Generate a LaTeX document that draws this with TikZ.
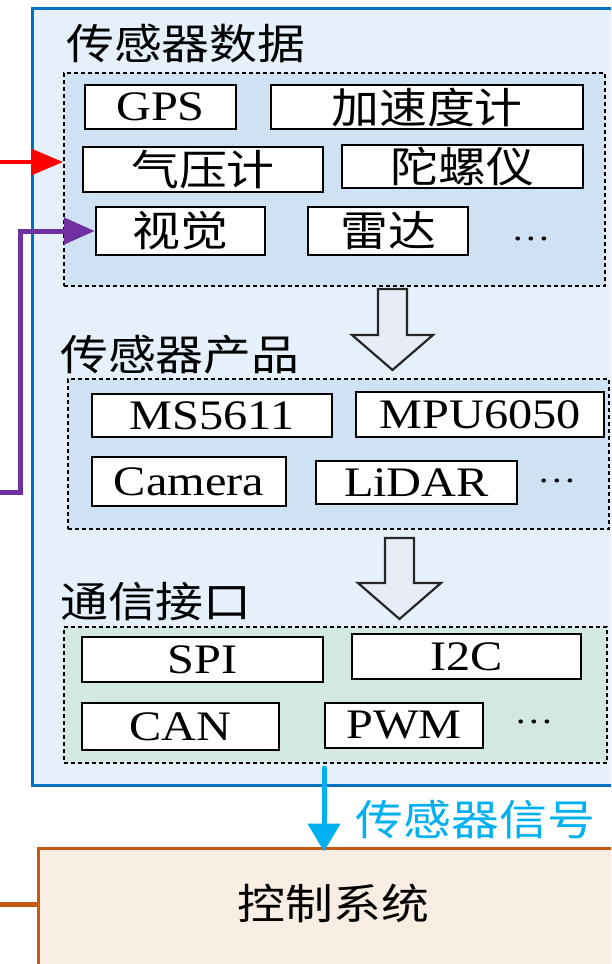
\documentclass[tikz,border=0pt]{standalone}
\usepackage{fontspec}
\setmainfont{Liberation Serif}[FakeStretch=1.15]
\newfontfamily\cjk{Noto Sans CJK SC}[FakeStretch=1.14]
\usetikzlibrary{arrows.meta}
\definecolor{outerfill}{RGB}{229,240,250}
\definecolor{outerline}{RGB}{0,112,192}
\definecolor{grpblue}{RGB}{207,226,243}
\definecolor{grpgreen}{RGB}{211,232,227}
\definecolor{arrowfill}{RGB}{232,236,246}
\definecolor{ctrlfill}{RGB}{248,238,228}
\definecolor{ctrlline}{RGB}{197,90,17}
\definecolor{sigcyan}{RGB}{0,176,240}
\definecolor{redline}{RGB}{255,0,0}
\definecolor{purpline}{RGB}{112,48,160}
\begin{document}
\begin{tikzpicture}[x=1pt,y={(0pt,-1pt)},
  item/.style={draw=black, line width=2.3pt, fill=white, inner sep=0pt, font=\fontsize{42}{48}\selectfont},
  itemc/.style={item, font=\cjk\fontsize{42}{48}\selectfont},
  group/.style={draw=black, line width=2pt, dash pattern=on 4pt off 3pt, inner sep=0pt},
  title/.style={anchor=west, inner sep=0pt, font=\cjk\fontsize{42}{48}\selectfont},
  dotsnode/.style={anchor=base, inner sep=0pt, font=\fontsize{34}{40}\selectfont},
  blockarrow/.style={draw=black!85, fill=arrowfill, line width=2.2pt, line join=miter},
  conn/.style={line width=5pt}
]
\useasboundingbox (0,0) rectangle (611,964);
\clip (0,0) rectangle (611,964);
% outer container
\node[draw=outerline, fill=outerfill, line width=3pt, minimum width=618pt, minimum height=777pt, inner sep=0pt] (outer) at (341,396.5) {};
% titles
\node[title] (t1) at (66,44) {传感器数据};
\node[title] (t2) at (60,355) {传感器产品};
\node[title] (t3) at (60,601.5) {通信接口};
% groups
\node[group, fill=grpblue, minimum width=541pt, minimum height=213pt] (g1) at (334.5,179.5) {};
\node[group, fill=grpblue, minimum width=541pt, minimum height=150pt] (g2) at (338.5,454) {};
\node[group, fill=grpgreen, minimum width=543pt, minimum height=136pt] (g3) at (335.5,695) {};
% group 1 items
\node[item, minimum width=151pt, minimum height=44pt] (gps) at (160.5,107) {GPS};
\node[itemc, minimum width=312pt, minimum height=44pt] (acc) at (427,107) {加速度计};
\node[itemc, minimum width=240pt, minimum height=45pt] (baro) at (203,169.5) {气压计};
\node[itemc, minimum width=241pt, minimum height=43pt] (gyro) at (462.5,166.5) {陀螺仪};
\node[itemc, minimum width=169pt, minimum height=48pt] (vis) at (180.5,231) {视觉};
\node[itemc, minimum width=160pt, minimum height=48pt] (radar) at (388,231) {雷达};
\node[dotsnode] (d1) at (531,240) {…};
% group 2 items
\node[item, minimum width=240pt, minimum height=43pt] (ms) at (212,415.5) {MS5611};
\node[item, minimum width=248pt, minimum height=45pt] (mpu) at (480,414.5) {MPU6050};
\node[item, minimum width=194pt, minimum height=49pt] (cam) at (189,481.5) {Camera};
\node[item, minimum width=201pt, minimum height=43pt] (lidar) at (416.5,482.5) {LiDAR};
\node[dotsnode] (d2) at (557,482) {…};
% group 3 items
\node[item, minimum width=241pt, minimum height=45pt] (spi) at (202.5,659.5) {SPI};
\node[item, minimum width=229pt, minimum height=45pt] (iic) at (466.5,656.5) {I2C};
\node[item, minimum width=197pt, minimum height=47pt] (can) at (180.5,726.5) {CAN};
\node[item, minimum width=158pt, minimum height=45pt] (pwm) at (404,725.5) {PWM};
\node[dotsnode] (d3) at (534,723) {…};
% block arrows
\draw[blockarrow] (378,289) -- (407,289) -- (407,335) -- (433,335) -- (392.5,370) -- (352,335) -- (378,335) -- cycle;
\draw[blockarrow] (385,538) -- (414,538) -- (414,583) -- (441,583) -- (399.5,619) -- (358,583) -- (385,583) -- cycle;
% control system
\node[draw=ctrlline, fill=ctrlfill, line width=3pt, minimum width=600pt, minimum height=150pt, inner sep=0pt] (ctrl) at (338,923) {};
\node[inner sep=0pt, font=\cjk\fontsize{42}{48}\selectfont] (ctrltext) at (333.5,903.5) {控制系统};
% connectors
\coordinate (rs) at (0,162);
\draw[line width=4pt, draw=redline, -{Triangle[length=32pt,width=26pt]}] (rs) -- (rs -| g1.west);
\coordinate (ps) at (0,492);
\coordinate (pk) at (20,492);
\draw[conn, draw=purpline, line join=miter, -{Triangle[length=31pt,width=26pt]}] (ps) -- (pk) |- (vis.west);
\coordinate (bs) at (324,768);
\draw[conn, draw=sigcyan, line cap=round, shorten >=-5pt, -{Triangle[length=28pt,width=32pt]}] (bs) -- (bs |- ctrl.north);
\node[inner sep=0pt, text=sigcyan, font=\cjk\fontsize{42}{48}\selectfont] (sig) at (475.5,820) {传感器信号};
\coordinate (os) at (0,904);
\draw[conn, draw=ctrlline] (os) -- (os -| ctrl.west);
\end{tikzpicture}
\end{document}
